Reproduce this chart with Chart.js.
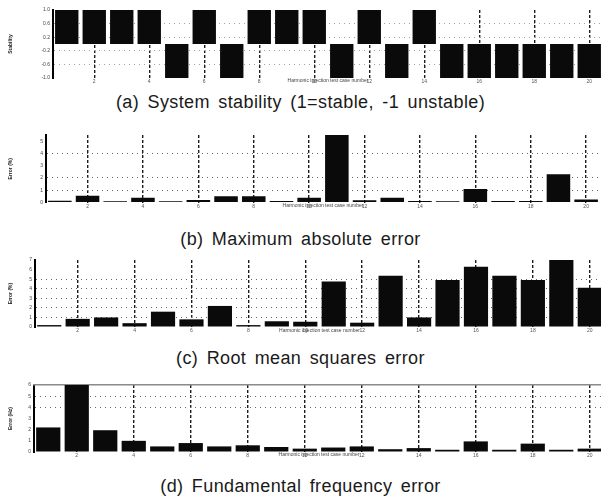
<!DOCTYPE html>
<html>
<head>
<meta charset="utf-8">
<script src="https://cdn.jsdelivr.net/npm/chart.js@4.4.1/dist/chart.umd.min.js"></script>
<style>
  html, body { margin: 0; padding: 0; background: #fff; overflow: hidden; }
  #page { position: relative; width: 601px; height: 497px; overflow: hidden; }
  .panel { position: absolute; left: 0; }
  .caption {
    position: absolute; left: 0; width: 601px; text-align: center;
    font: 18px 'Liberation Sans', Arial, sans-serif; color: #1a1a1a;
    letter-spacing: 0.4px; word-spacing: 3px; line-height: 20px; white-space: nowrap;
  }
</style>
</head>
<body>
<div id="page">
  <canvas id="chartA" class="panel"></canvas>
  <canvas id="chartB" class="panel"></canvas>
  <canvas id="chartC" class="panel"></canvas>
  <canvas id="chartD" class="panel"></canvas>
  <div class="caption" style="top:92px">(a) System stability (1=stable, -1 unstable)</div>
  <div class="caption" style="top:229px">(b) Maximum absolute error</div>
  <div class="caption" style="top:348px">(c) Root mean squares error</div>
  <div class="caption" style="top:476px">(d) Fundamental frequency error</div>
</div>
<script>
// test cases on the x axis
const caseLabels = ['1', '2', '3', '4', '5', '6', '7', '8', '9', '10',
  '11', '12', '13', '14', '15', '16', '17', '18', '19', '20']

// (a) 1 = stable, -1 = unstable
const stability = [1, 1, 1, 1, -1, 1, -1, 1, 1, 1, -1, 1, -1, 1, -1, -1, -1, -1, -1, -1]
// (b)
const maxAbsError = [0.15, 0.55, 0.1, 0.38, 0.1, 0.2, 0.5, 0.5, 0.12, 0.38,
  5.5, 0.18, 0.38, 0.12, 0.1, 1.1, 0.12, 0.12, 2.3, 0.25]
// (c)
const rmsError = [0.2, 0.85, 1.0, 0.4, 1.6, 0.8, 2.2, 0.2, 0.6, 0.55,
  4.75, 0.45, 5.35, 1.0, 4.9, 6.3, 5.35, 4.9, 7.0, 4.1]
// (d)
const freqError = [2.2, 6.0, 1.95, 1.0, 0.5, 0.8, 0.5, 0.6, 0.45, 0.3,
  0.4, 0.5, 0.25, 0.35, 0.2, 0.95, 0.2, 0.75, 0.2, 0.3]

// y tick labels
const stabilityTicks = [-1, -0.8, -0.6, -0.4, -0.2, 0, 0.2, 0.4, 0.6, 0.8, 1]
const maxErrTicks = [0, 1, 2, 3, 4, 5]
const rmsTicks = [0, 1, 2, 3, 4, 5, 6, 7]
const freqTicks = [0, 1, 2, 3, 4, 5, 6]

const xAxisTitle = 'Harmonic injection test case number'
const CANVAS_W = 604

function makePanel(canvasId, values, geo, y, topLine) {
  const canvasTop = geo.top - 10
  const canvasBottom = geo.xTitleY + 6
  const xHeight = geo.xTitleY - geo.bottom + 3
  const canvas = document.getElementById(canvasId)
  canvas.width = CANVAS_W
  canvas.height = canvasBottom - canvasTop
  canvas.style.top = canvasTop + 'px'

  const scales = {
    x: {
      afterFit: (s) => { s.height = xHeight },
      grid: {
        offset: false,
        drawTicks: false,
        lineWidth: 1.4,
        color: (c) => (c.index % 2 === 1 ? '#1c1c1c' : 'rgba(0,0,0,0)'),
      },
      border: { display: false, dash: [3, 2] },
      ticks: {
        autoSkip: false,
        maxRotation: 0,
        padding: 1,
        color: '#555',
        font: { size: 5 },
        callback: (v, i) => (i % 2 === 1 ? caseLabels[i] : ''),
      },
      title: { display: true, text: xAxisTitle, color: '#444', font: { size: 5 }, padding: 0 },
    },
    y: {
      min: y.min,
      max: y.max,
      afterFit: (s) => { s.width = geo.left },
      afterBuildTicks: (s) => { s.ticks = y.ticks.map((v) => ({ value: v })) },
      grid: {
        drawTicks: false,
        lineWidth: 1,
        color: (c) => (c.tick && y.grid.includes(c.tick.value) ? y.gridColor : 'rgba(0,0,0,0)'),
      },
      border: { display: true, color: '#000', width: 2, dash: [1, 4] },
      ticks: { padding: 3, color: '#444', font: { size: 5 } },
      title: {
        display: true, text: y.title, color: '#222',
        font: { size: 5, weight: 'bold' }, padding: { top: 8, bottom: 0 },
      },
    },
  }
  if (topLine) {
    scales.x2 = {
      position: 'top',
      afterFit: (s) => { s.height = 0 },
      grid: { display: false, drawTicks: false },
      ticks: { display: false },
      border: { display: true, color: '#8a8a8a', width: 1.5 },
    }
  }

  return new Chart(canvas, {
    type: 'bar',
    data: {
      labels: caseLabels,
      datasets: [{
        data: values,
        backgroundColor: '#0a0a0a',
        borderWidth: 0,
        barPercentage: 0.85,
        categoryPercentage: 1,
      }],
    },
    options: {
      responsive: false,
      animation: false,
      events: [],
      layout: {
        padding: {
          top: geo.top - canvasTop,
          left: 0,
          right: CANVAS_W - geo.right,
          bottom: canvasBottom - geo.bottom - xHeight,
        },
      },
      plugins: { legend: { display: false }, tooltip: { enabled: false } },
      scales,
    },
  })
}

makePanel('chartA', stability,
  { top: 10, bottom: 78, left: 53, right: 603, xTitleY: 81 },
  { min: -1, max: 1, ticks: stabilityTicks, grid: [-0.8, -0.6, -0.4, -0.2, 0.2, 0.4, 0.6, 0.8], gridColor: '#a0a0a0', title: 'Stability' })

makePanel('chartB', maxAbsError,
  { top: 135, bottom: 202.5, left: 46, right: 600, xTitleY: 206 },
  { min: 0, max: 5.5, ticks: maxErrTicks, grid: [1, 2, 4], gridColor: '#666', title: 'Error (%)' })

makePanel('chartC', rmsError,
  { top: 260, bottom: 327, left: 35, right: 604, xTitleY: 331 },
  { min: 0, max: 7, ticks: rmsTicks, grid: [1, 2, 3, 4, 5], gridColor: '#666', title: 'Error (%)' })

makePanel('chartD', freqError,
  { top: 385, bottom: 452, left: 34, right: 604, xTitleY: 455 },
  { min: 0, max: 6, ticks: freqTicks, grid: [4, 5], gridColor: '#666', title: 'Error (Hz)' }, true)
</script>
</body>
</html>
